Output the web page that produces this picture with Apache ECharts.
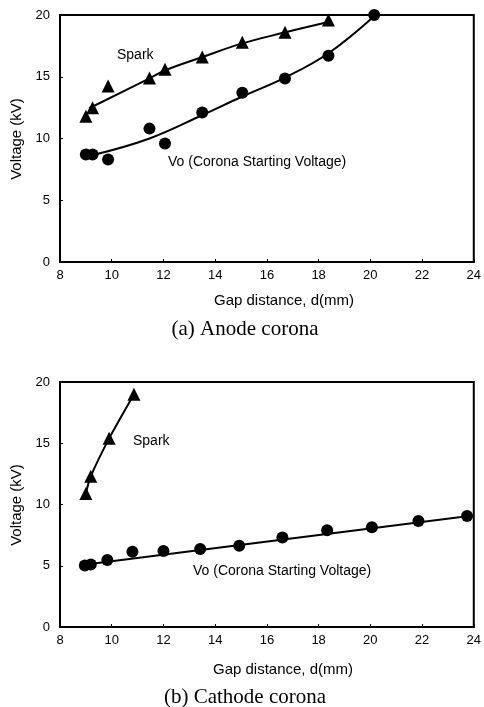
<!DOCTYPE html>
<html>
<head>
<meta charset="utf-8">
<script src="https://cdn.jsdelivr.net/npm/echarts@6/dist/echarts.min.js"></script>
<style>
  html, body { margin: 0; padding: 0; background: #fff; }
  #chart { width: 484px; height: 707px; }
</style>
</head>
<body>
<div id="chart"></div>
<script>
// (a) Anode corona - measured points
const anodeGap = [9.0, 9.26, 9.86, 11.46, 12.06, 13.5, 15.05, 16.7, 18.38];
const anodeSpark = [11.8, 12.5, 14.25, 14.9, 15.6, 16.6, 17.8, 18.6, 19.6];
const anodeVoGap = [9.0, 9.26, 9.86, 11.46, 12.06, 13.5, 15.05, 16.7, 18.38, 20.15];
const anodeVo = [8.7, 8.7, 8.3, 10.8, 9.6, 12.1, 13.7, 14.85, 16.7, 20.0];
// (a) fitted curves
const anodeSparkFitGap = [9.13, 11.46, 12.1, 13.51, 15.05, 16.72, 18.38];
const anodeSparkFit = [12.45, 14.87, 15.55, 16.6, 17.7, 18.6, 19.43];
const anodeVoFitGap = [9.28, 11.46, 13.51, 15.05, 16.72, 18.38, 20.2];
const anodeVoFit = [8.66, 10.0, 11.9, 13.4, 14.95, 16.9, 20.0];

// (b) Cathode corona - measured points
const cathodeSparkGap = [9.0, 9.19, 9.9, 10.86];
const cathodeSpark = [10.9, 12.3, 15.4, 19.0];
const cathodeVoGap = [8.96, 9.19, 9.83, 10.8, 12.0, 13.42, 14.93, 16.6, 18.33, 20.06, 21.86, 23.74];
const cathodeVo = [5.03, 5.1, 5.47, 6.15, 6.2, 6.37, 6.64, 7.3, 7.9, 8.14, 8.65, 9.06];
// (b) fitted lines
const cathodeSparkFitGap = [9.0, 9.19, 9.9, 10.86];
const cathodeSparkFit = [10.9, 12.3, 15.4, 19.0];
const cathodeVoFitGap = [9.0, 23.74];
const cathodeVoFit = [5.1, 9.05];

const xTicks = [8, 24, 2];
const yTicks = [0, 20, 5];

const pairs = (xs, ys) => xs.map((x, i) => [x, ys[i]]);

const textColor = "#000";
const font = "Liberation Sans, Arial, sans-serif";

function makeX(gridIndex) {
  return {
    type: "value",
    gridIndex: gridIndex,
    min: xTicks[0],
    max: xTicks[1],
    interval: xTicks[2],
    axisLine: { show: true, lineStyle: { color: "#000", width: 2 } },
    axisTick: { show: true, inside: true, length: 3, lineStyle: { color: "#000" } },
    axisLabel: { color: textColor, fontSize: 13, fontFamily: font, margin: 7 },
    splitLine: { show: false }
  };
}
function makeY(gridIndex) {
  return {
    type: "value",
    gridIndex: gridIndex,
    min: yTicks[0],
    max: yTicks[1],
    interval: yTicks[2],
    axisLine: { show: true, lineStyle: { color: "#000", width: 2 } },
    axisTick: { show: true, inside: true, length: 3, lineStyle: { color: "#000" } },
    axisLabel: { color: textColor, fontSize: 13, fontFamily: font, margin: 10 },
    splitLine: { show: false }
  };
}
function fitLine(idx, xs, ys, smooth) {
  return {
    type: "line",
    xAxisIndex: idx,
    yAxisIndex: idx,
    data: pairs(xs, ys),
    smooth: smooth,
    showSymbol: false,
    lineStyle: { color: "#000", width: 2 },
    z: 2,
    silent: true
  };
}
function points(idx, xs, ys, symbol, size) {
  return {
    type: "scatter",
    xAxisIndex: idx,
    yAxisIndex: idx,
    data: pairs(xs, ys),
    symbol: symbol,
    symbolSize: size,
    itemStyle: { color: "#000", opacity: 1 },
    z: 3
  };
}
function label(x, y, text, opts) {
  return Object.assign({
    type: "text",
    x: x,
    y: y,
    style: {
      text: text,
      fill: textColor,
      font: "14px " + font,
      textAlign: "left",
      textVerticalAlign: "middle"
    }
  }, opts || {});
}

const myChart = echarts.init(document.getElementById("chart"));
const chartOption = {
  backgroundColor: "#fff",
  animation: false,
  grid: [
    { left: 60, top: 15, width: 415, height: 247, show: true, borderColor: "#000", borderWidth: 2, backgroundColor: "transparent" },
    { left: 60, top: 382, width: 415, height: 245, show: true, borderColor: "#000", borderWidth: 2, backgroundColor: "transparent" }
  ],
  xAxis: [makeX(0), makeX(1)],
  yAxis: [makeY(0), makeY(1)],
  series: [
    fitLine(0, anodeSparkFitGap, anodeSparkFit, 0.4),
    fitLine(0, anodeVoFitGap, anodeVoFit, 0.4),
    points(0, anodeGap, anodeSpark, "triangle", 13),
    points(0, anodeVoGap, anodeVo, "circle", 12),
    fitLine(1, cathodeSparkFitGap, cathodeSparkFit, 0.3),
    fitLine(1, cathodeVoFitGap, cathodeVoFit, false),
    points(1, cathodeSparkGap, cathodeSpark, "triangle", 13),
    points(1, cathodeVoGap, cathodeVo, "circle", 12)
  ],
  graphic: [
    label(117, 55, "Spark"),
    label(168, 162, "Vo (Corona Starting Voltage)"),
    label(133, 441, "Spark"),
    label(193, 571, "Vo (Corona Starting Voltage)"),
    label(284, 301, "Gap distance, d(mm)", { style: { text: "Gap distance, d(mm)", fill: textColor, font: "15px " + font, textAlign: "center", textVerticalAlign: "middle" } }),
    label(283, 670, "Gap distance, d(mm)", { style: { text: "Gap distance, d(mm)", fill: textColor, font: "15px " + font, textAlign: "center", textVerticalAlign: "middle" } }),
    label(17, 139, "Voltage (kV)", { rotation: Math.PI / 2, style: { text: "Voltage (kV)", fill: textColor, font: "15px " + font, textAlign: "center", textVerticalAlign: "middle" } }),
    label(17, 505, "Voltage (kV)", { rotation: Math.PI / 2, style: { text: "Voltage (kV)", fill: textColor, font: "15px " + font, textAlign: "center", textVerticalAlign: "middle" } }),
    label(245, 329, "(a) Anode corona", { style: { text: "(a) Anode corona", fill: textColor, font: "21px Liberation Serif, Times New Roman, serif", textAlign: "center", textVerticalAlign: "middle" } }),
    label(245, 697, "(b) Cathode corona", { style: { text: "(b) Cathode corona", fill: textColor, font: "21px Liberation Serif, Times New Roman, serif", textAlign: "center", textVerticalAlign: "middle" } })
  ]
};
myChart.setOption(chartOption);
</script>
</body>
</html>
